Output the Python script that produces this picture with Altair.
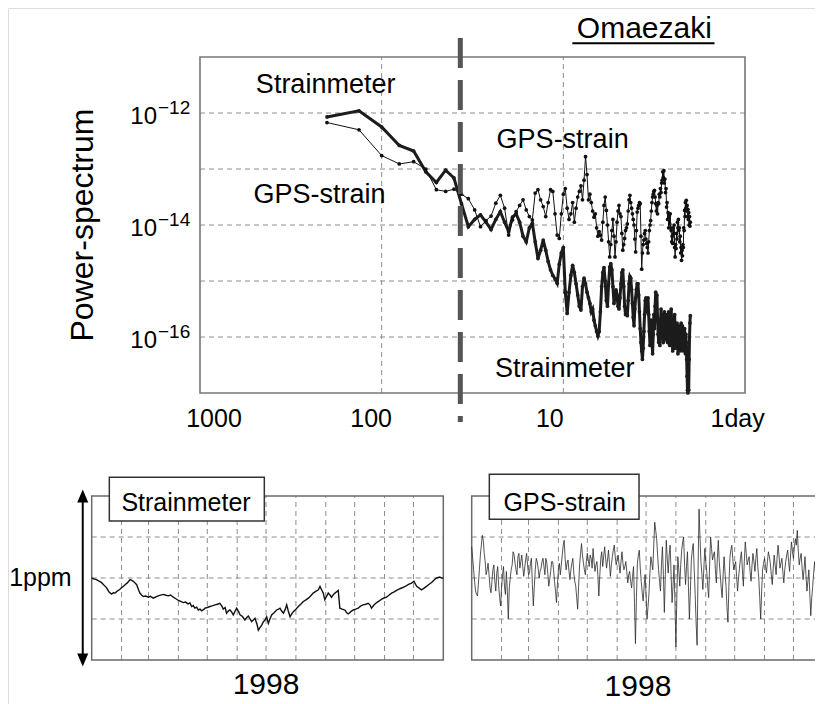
import altair as alt
import pandas as pd

FONT = "Liberation Sans"

# ---------------- data: power spectrum (log10 of power), harmonics k of a 400-day record ----------------
record_length_days = 400
harmonic_k = list(range(2, 201))

strain_logP = [
    -12.07, -11.96, -12.25, -12.58, -12.68, -13.05, -13.24, -13.02, -13.16, -13.62,   # k 2-11
    -14.03, -13.90, -13.82, -13.95, -14.08, -13.90, -13.76, -13.95, -14.12, -13.86,   # k 12-21
    -13.80, -13.95, -14.20, -14.30, -14.05, -13.97, -14.30, -14.60, -14.45, -14.27,   # k 22-31
    -14.45, -14.65, -14.80, -14.90, -14.96, -15.04, -14.70, -14.50, -14.40, -15.20,   # k 32-41
    -15.58, -15.20, -14.90, -14.72, -14.85, -15.05, -15.25, -15.45, -15.52, -15.10,   # k 42-51
    -14.95, -15.05, -15.20, -15.30,                                                   # k 52-55
    -15.40, -15.55, -15.50, -15.70, -15.80, -15.90, -15.98, -15.90, -15.55, -15.10,   # k 56-65
    -14.85, -14.76, -15.00, -15.35, -15.45, -15.05, -14.75, -14.69, -14.80, -15.10,   # k 66-75
    -15.40, -15.30, -15.16, -15.25, -15.45, -15.50, -15.30, -15.05, -14.85, -14.80,   # k 76-85
    -15.10, -15.45, -15.60, -15.55, -15.62, -15.35, -15.05, -14.92, -14.95, -15.15,   # k 86-95
    -15.40, -15.65, -15.80, -15.50, -15.30, -15.15, -15.05, -15.05, -15.25, -15.55,   # k 96-105
    -15.85, -16.10, -16.25, -16.40, -16.20, -15.90, -15.60, -15.35, -15.30, -15.55,   # k 106-115
    -15.40, -15.30, -15.60, -15.90, -16.15, -16.00, -15.70, -16.05, -16.30, -15.95,   # k 116-125
    -15.60, -15.85, -15.45, -15.20, -15.50, -15.25, -15.65, -15.95, -16.10, -15.80,   # k 126-135
    -16.15, -15.75, -15.50, -15.85, -15.60, -15.95, -16.10, -15.70, -15.55, -15.95,   # k 136-145
    -15.75, -16.05, -15.60, -15.85, -16.10, -15.80, -15.55, -15.90, -16.15, -15.85,   # k 146-155
    -15.65, -15.50, -15.80, -16.05, -16.25, -15.90, -16.20, -15.70, -15.60, -15.95,   # k 156-165
    -16.20, -15.85, -16.10, -15.75, -15.95, -16.30, -16.05, -15.80, -16.15, -15.90,   # k 166-175
    -16.25, -15.95, -15.75, -15.85, -16.10, -15.80, -16.00, -16.25, -15.90, -16.15,   # k 176-185
    -15.85, -16.05, -16.30, -15.95, -16.10, -16.40, -16.70, -16.95, -17.00, -16.60,   # k 186-195
    -16.95, -16.40, -16.00, -15.75, -15.62,                                           # k 196-200
]

gps_logP = [
    -12.17, -12.30, -12.76, -12.91, -12.87, -13.00, -13.37, -13.40, -13.36, -13.45,   # k 2-11
    -13.53, -13.73, -14.03, -13.92, -13.84, -13.61, -13.47, -13.70, -14.18, -13.91,   # k 12-21
    -13.76, -13.65, -13.55, -13.73, -13.85, -13.91, -13.43, -13.37, -13.55, -13.67,   # k 22-31
    -13.85, -13.60, -13.37, -13.40, -13.80, -14.18, -14.24, -13.80, -13.45, -13.35,   # k 32-41
    -13.70, -13.90, -13.80, -13.60, -13.95, -13.70, -13.50, -13.40, -13.30, -13.55,   # k 42-51
    -13.20, -12.78, -13.10, -13.55,                                                   # k 52-55
    -13.45, -13.60, -13.75, -13.86, -13.80, -14.05, -14.20, -14.12, -14.18, -14.27,   # k 56-65
    -13.95, -13.65, -13.50, -13.74, -14.00, -14.30, -14.57, -14.35, -14.10, -13.90,   # k 66-75
    -14.20, -14.57, -14.30, -13.95, -13.75, -13.65, -13.80, -13.85, -14.15, -14.45,   # k 76-85
    -14.35, -14.24, -14.10, -14.05, -13.98, -13.75, -13.55, -13.47, -13.60, -13.70,   # k 86-95
    -13.80, -13.90, -14.00, -14.25, -14.48, -14.10, -13.77, -13.70, -13.65, -13.60,   # k 96-105
    -13.62, -14.20, -14.79, -14.50, -14.35, -14.27, -14.15, -14.10, -14.25, -14.33,   # k 106-115
    -14.40, -14.50, -14.30, -14.10, -14.00, -13.92, -13.75, -13.60, -13.50, -13.45,   # k 116-125
    -13.40, -13.38, -13.50, -13.62, -13.75, -13.65, -13.80, -13.60, -13.62, -13.45,   # k 126-135
    -13.50, -13.35, -13.42, -13.25, -13.20, -13.05, -13.15, -13.03, -13.25, -13.18,   # k 136-145
    -13.42, -13.35, -13.68, -13.60, -13.90, -13.78, -14.05, -13.85, -13.98, -13.80,   # k 146-155
    -14.05, -14.10, -14.30, -14.20, -14.33, -14.05, -14.15, -14.00, -14.40, -14.57,   # k 156-165
    -14.35, -14.42, -14.15, -14.25, -13.95, -14.05, -13.90, -14.10, -14.05, -14.30,   # k 166-175
    -14.20, -14.50, -14.40, -14.63, -14.45, -14.55, -14.35, -14.40, -14.05, -14.10,   # k 176-185
    -13.74, -13.85, -13.60, -13.70, -13.56, -13.75, -13.65, -13.85, -13.72, -13.90,   # k 186-195
    -13.78, -14.00, -13.85, -14.02, -13.95,                                           # k 196-200
]

power_grid_exp = [-12, -13, -14, -15, -16]
period_grid = [100, 10]
y_tick_exp = [-12, -14, -16]
y_tick_sup = ["\u221212", "\u221214", "\u221216"]
boundary_period = 36.9

# ---------------- data: 1998 time series (day of year, ppm) ----------------
month_start_days = [31, 59, 90, 120, 151, 181, 212, 243, 273, 304, 334]
ppm_grid = [-0.25, 0.0, 0.25]

strain_days = [
    0, 2, 5, 8, 10, 13, 15.5, 18, 20.7, 22.5, 24.2, 26, 27.6, 29, 31, 33, 34.6, 37, 39.8, 41.5,
    43.2, 45, 46.7, 48.5, 50, 52, 53.6, 56, 58.8, 61, 64, 66.5, 69, 71.5, 74.4, 77, 79.6, 82, 84.7, 87,
    90, 92.5, 95, 97.5, 100, 102, 103.8, 105.5, 107, 109, 110.7, 112.5, 114, 116, 117.6, 120, 122.8, 125, 128, 130.5,
    133, 135, 136.6, 138.5, 140, 142, 143.6, 145.5, 147, 149, 150.5, 152.5, 154, 156.5, 159, 161, 162.6, 164.5, 166, 168,
    169.5, 171.5, 173, 175, 176.5, 178.2, 180, 181.6, 183.4, 185, 186.8, 189.5, 192, 194, 195.5, 197, 199, 201, 202.4, 204,
    205.9, 207.5, 209.3, 212, 214.5, 217, 219.7, 222, 224.9, 227.5, 230, 232.5, 235.3, 237, 238.5, 240.4, 242, 244, 245.6, 247.5,
    249, 251, 252.5, 254, 255.9, 257.6, 260, 262.8, 264.5, 266.3, 269, 271.5, 274, 276.7, 279, 281.8, 284.5, 287, 289, 290.5,
    293, 295.8, 298.5, 301, 303.5, 306, 308.5, 311.3, 314, 316.5, 319, 321.7, 324, 326.9, 329.5, 332, 334.5, 337.3, 340, 342.4,
    345, 347.6, 350, 352.8, 355.5, 358, 361.4, 363, 365,
]
strain_ppm = [
    0.0, -0.005, -0.01, -0.02, -0.027, -0.045, -0.06, -0.085, -0.098, -0.09, -0.092, -0.082, -0.076, -0.07, -0.06, -0.05, -0.041, -0.03, -0.01, -0.015,
    -0.02, -0.03, -0.041, -0.07, -0.092, -0.105, -0.113, -0.11, -0.117, -0.112, -0.123, -0.115, -0.109, -0.104, -0.10, -0.105, -0.109, -0.104, -0.117, -0.125,
    -0.137, -0.142, -0.15, -0.147, -0.158, -0.152, -0.174, -0.168, -0.184, -0.178, -0.195, -0.19, -0.2, -0.193, -0.184, -0.18, -0.174, -0.17, -0.164, -0.16,
    -0.154, -0.17, -0.19, -0.18, -0.215, -0.2, -0.195, -0.21, -0.225, -0.2, -0.184, -0.205, -0.225, -0.235, -0.256, -0.24, -0.232, -0.25, -0.266, -0.255,
    -0.246, -0.28, -0.318, -0.30, -0.287, -0.266, -0.256, -0.236, -0.277, -0.25, -0.225, -0.21, -0.195, -0.19, -0.184, -0.2, -0.215, -0.19, -0.164, -0.2,
    -0.236, -0.22, -0.205, -0.19, -0.174, -0.16, -0.143, -0.135, -0.123, -0.108, -0.092, -0.082, -0.072, -0.051, -0.07, -0.092, -0.133, -0.11, -0.092, -0.105,
    -0.117, -0.1, -0.092, -0.085, -0.076, -0.184, -0.19, -0.195, -0.21, -0.219, -0.205, -0.195, -0.19, -0.184, -0.172, -0.164, -0.16, -0.154, -0.165, -0.184,
    -0.165, -0.15, -0.14, -0.129, -0.122, -0.117, -0.105, -0.092, -0.085, -0.076, -0.068, -0.061, -0.055, -0.047, -0.038, -0.031, -0.02, -0.051, -0.062, -0.072,
    -0.062, -0.051, -0.04, -0.027, -0.012, 0.0, 0.006, 0.0, 0.0,
]

# GPS strain, daily: values read for even days and for odd days
gps_ppm_even_days = [
    0.19, 0.05, -0.08, -0.11, 0.05, 0.20, 0.23, 0.10, 0.05, 0.02,
    -0.09, 0.05, -0.02, 0.03, -0.05, -0.17, 0.02, -0.05, 0.04, -0.25,
    0.00, 0.08, 0.14, 0.05, 0.13, 0.06, 0.14, 0.01, 0.11, 0.08,
    0.03, 0.12, -0.17, 0.05, 0.10, 0.00, 0.06, 0.12, 0.02, 0.09,
    -0.05, 0.04, 0.10, -0.02, -0.15, 0.05, 0.02, 0.14, 0.23, 0.05,
    0.11, -0.01, 0.09, 0.03, -0.05, -0.19, 0.08, 0.21, 0.09, 0.02,
    0.15, 0.07, 0.12, 0.18, 0.04, 0.10, -0.11, 0.12, 0.07, 0.19,
    0.06, 0.17, 0.01, 0.13, 0.20, 0.08, 0.14, 0.03, 0.16, 0.05,
    0.10, -0.03, 0.04, -0.06, 0.07, -0.40, 0.09, 0.17, -0.02, -0.14,
    0.02, -0.25, -0.10, 0.13, 0.05, 0.34, 0.24, 0.05, -0.08, 0.19,
    -0.21, 0.23, 0.03, 0.20, -0.15, 0.08, -0.42, 0.13, -0.05, 0.17,
    0.25, -0.04, 0.16, -0.25, 0.11, 0.21, -0.10, -0.41, 0.42, 0.10,
    -0.07, 0.18, 0.04, -0.12, 0.25, 0.11, 0.16, -0.03, 0.23, 0.02,
    -0.12, 0.13, -0.05, -0.27, 0.12, 0.20, 0.05, 0.10, -0.08, 0.06,
    0.16, -0.05, 0.22, 0.08, 0.13, -0.02, 0.15, 0.04, 0.18, 0.00,
    -0.25, 0.05, 0.12, 0.03, 0.16, 0.09, -0.04, 0.14, 0.02, 0.20,
    0.06, 0.12, -0.03, 0.10, 0.17, 0.04, 0.22, 0.12, 0.24, 0.29,
    0.08, 0.15, -0.01, 0.13, -0.08, 0.05, -0.23, -0.05, 0.10, -0.10,
    0.12, -0.12, -0.08,
]
gps_ppm_odd_days = [
    0.12, -0.02, -0.10, -0.03, 0.14, 0.26, 0.15, 0.02, 0.09, -0.06,
    -0.02, 0.08, -0.08, 0.07, -0.12, -0.06, 0.07, -0.10, -0.08, -0.06,
    0.05, 0.16, 0.09, 0.02, 0.15, 0.10, 0.07, 0.06, 0.15, 0.02,
    0.09, -0.04, -0.05, 0.12, 0.06, 0.04, 0.10, 0.07, 0.12, 0.03,
    -0.01, 0.10, 0.05, -0.08, -0.04, 0.09, 0.08, 0.20, 0.12, 0.09,
    0.04, 0.05, 0.12, -0.02, -0.12, -0.05, 0.15, 0.14, 0.05, 0.10,
    0.11, 0.14, 0.06, 0.10, 0.08, 0.01, 0.02, 0.16, 0.13, 0.12,
    0.11, 0.09, 0.08, 0.17, 0.13, 0.11, 0.08, 0.10, 0.09, 0.07,
    0.04, 0.02, -0.02, 0.01, -0.15, -0.12, 0.14, 0.06, -0.09, -0.05,
    -0.10, -0.18, 0.03, 0.09, 0.20, 0.29, 0.14, -0.02, 0.08, 0.02,
    0.02, 0.12, 0.14, 0.02, -0.05, -0.15, -0.10, 0.05, 0.08, 0.22,
    0.08, 0.07, -0.05, -0.08, 0.17, 0.05, -0.28, 0.05, 0.25, 0.02,
    0.06, 0.10, -0.05, 0.08, 0.18, 0.14, 0.05, 0.12, 0.10, -0.06,
    0.02, 0.03, -0.18, -0.05, 0.17, 0.12, 0.08, 0.01, 0.00, 0.12,
    0.05, 0.10, 0.15, 0.11, 0.04, 0.08, 0.10, 0.12, 0.07, -0.12,
    -0.08, 0.09, 0.07, 0.10, 0.13, 0.02, 0.06, 0.08, 0.12, 0.14,
    0.09, 0.04, 0.05, 0.14, 0.10, 0.14, 0.16, 0.19, 0.20, 0.17,
    0.12, 0.06, 0.05, 0.02, -0.02, -0.10, -0.12, 0.03, 0.02, 0.01,
    -0.02, -0.10,
]

assert len(strain_logP) == len(harmonic_k) == len(gps_logP)
assert len(strain_days) == len(strain_ppm)
assert len(gps_ppm_even_days) == 183 and len(gps_ppm_odd_days) == 182

gps_days, gps_ppm = [], []
for i, v in enumerate(gps_ppm_even_days):
    gps_days.append(2 * i)
    gps_ppm.append(v)
    if i < len(gps_ppm_odd_days):
        gps_days.append(2 * i + 1)
        gps_ppm.append(gps_ppm_odd_days[i])

spectrum = pd.DataFrame({
    "period": [record_length_days / k for k in harmonic_k],
    "strain": [10.0 ** v for v in strain_logP],
    "gps": [10.0 ** v for v in gps_logP],
})

# ---------------- scales (pixel ranges inside one 807x696 canvas) ----------------
TOP_X = alt.Scale(type="log", domain=[1, 1000], range=[737, 192], nice=False, zero=False)
TOP_Y = alt.Scale(type="log", domain=[1e-17, 1e-11], range=[385, 49], nice=False, zero=False)
BL_X = alt.Scale(domain=[0, 365], range=[83.7, 435.3], nice=False, zero=False)
BR_X = alt.Scale(domain=[0, 365], range=[463.7, 815.3], nice=False, zero=False)
B_Y = alt.Scale(domain=[-0.5, 0.5], range=[652, 488], nice=False, zero=False)


def tx(f):
    return alt.X(f, type="quantitative", scale=TOP_X, axis=None)


def ty(f):
    return alt.Y(f, type="quantitative", scale=TOP_Y, axis=None)


GRID = dict(color="#8c8c8c", strokeWidth=1, strokeDash=[5, 4])
layers = []

# ---------------- top panel ----------------
layers.append(
    alt.Chart(pd.DataFrame({"p": [10.0 ** e for e in power_grid_exp], "xa": 1000, "xb": 1}))
    .mark_rule(**GRID)
    .encode(x=tx("xa"), x2=alt.X2("xb"), y=ty("p"))
)
layers.append(
    alt.Chart(pd.DataFrame({"per": period_grid, "ya": 1e-17, "yb": 1e-11}))
    .mark_rule(**GRID)
    .encode(x=tx("per"), y=ty("ya"), y2=alt.Y2("yb"))
)
layers.append(
    alt.Chart(pd.DataFrame({"xa": [1000], "xb": [1], "ya": [1e-17], "yb": [1e-11]}))
    .mark_rect(fillOpacity=0, stroke="#777777", strokeWidth=1.6)
    .encode(x=tx("xa"), x2=alt.X2("xb"), y=ty("ya"), y2=alt.Y2("yb"))
)
layers.append(
    alt.Chart(spectrum)
    .mark_line(color="#1c1c1c", strokeWidth=3,
               point=alt.OverlayMarkDef(filled=True, size=14, color="#1c1c1c"))
    .encode(x=tx("period"), y=ty("strain"))
)
layers.append(
    alt.Chart(spectrum)
    .mark_line(color="#111111", strokeWidth=1,
               point=alt.OverlayMarkDef(filled=True, size=14, color="#111111"))
    .encode(x=tx("period"), y=ty("gps"))
)
layers.append(
    alt.Chart(pd.DataFrame({"per": [boundary_period], "ya": [10 ** -10.66], "yb": [10 ** -17.52]}))
    .mark_rule(color="#555555", strokeWidth=5, strokeDash=[30, 12])
    .encode(x=tx("per"), y=ty("ya"), y2=alt.Y2("yb"))
)
annotations = pd.DataFrame({
    "text": ["Strainmeter", "GPS-strain", "GPS-strain", "Strainmeter"],
    "per": [203.4, 220.0, 10.09, 9.83],
    "pw": [10 ** -11.50, 10 ** -13.46, 10 ** -12.48, 10 ** -16.58],
})
layers.append(
    alt.Chart(annotations)
    .mark_text(font=FONT, fontSize=27, align="center", baseline="middle", color="black")
    .encode(x=tx("per"), y=ty("pw"), text="text:N")
)
layers.append(
    alt.Chart(pd.DataFrame({"t": ["Omaezaki"], "per": [3.58], "pw": [10 ** -10.661]}))
    .mark_text(font=FONT, fontSize=30, align="center", baseline="alphabetic", color="black")
    .encode(x=tx("per"), y=ty("pw"), text="t:N")
)
layers.append(
    alt.Chart(pd.DataFrame({"xa": [8.92], "xb": [1.472], "pw": [10 ** -10.756]}))
    .mark_rule(color="black", strokeWidth=2)
    .encode(x=tx("xa"), x2=alt.X2("xb"), y=ty("pw"))
)
ytick = pd.DataFrame({
    "pw": [10.0 ** e for e in y_tick_exp], "per": 1000,
    "base": ["10"] * len(y_tick_exp), "sup": y_tick_sup,
})
layers.append(
    alt.Chart(ytick)
    .mark_text(font=FONT, fontSize=24, align="right", baseline="middle", dx=-43, dy=4, color="black")
    .encode(x=tx("per"), y=ty("pw"), text="base:N")
)
layers.append(
    alt.Chart(ytick)
    .mark_text(font=FONT, fontSize=19, align="left", baseline="middle", dx=-42, dy=-5, color="black")
    .encode(x=tx("per"), y=ty("pw"), text="sup:N")
)
layers.append(
    alt.Chart(pd.DataFrame({"t": ["Power-spectrum"], "per": [1000], "pw": [1e-14]}))
    .mark_text(font=FONT, fontSize=32, angle=270, align="center", baseline="middle", dy=-117, color="black")
    .encode(x=tx("per"), y=ty("pw"), text="t:N")
)
for label, per, dx, align in [("1000", 1000, 14, "center"), ("100", 100, -10.5, "center"),
                              ("10", 10, -13.5, "center"), ("1day", 1, -34.5, "left")]:
    layers.append(
        alt.Chart(pd.DataFrame({"t": [label], "per": [per], "pw": [1e-17]}))
        .mark_text(font=FONT, fontSize=25, align=align, baseline="alphabetic", dx=dx, dy=34, color="black")
        .encode(x=tx("per"), y=ty("pw"), text="t:N")
    )


# ---------------- bottom panels ----------------
def panel(xs, days, vals, line_color, line_w, box, label, label_pos, year_day, year_dy):
    def bx(f):
        return alt.X(f, type="quantitative", scale=xs, axis=None)

    def by(f):
        return alt.Y(f, type="quantitative", scale=B_Y, axis=None)

    out = [
        alt.Chart(pd.DataFrame({"v": ppm_grid, "xa": 0, "xb": 365}))
        .mark_rule(**GRID).encode(x=bx("xa"), x2=alt.X2("xb"), y=by("v")),
        alt.Chart(pd.DataFrame({"d": month_start_days, "ya": -0.5, "yb": 0.5}))
        .mark_rule(**GRID).encode(x=bx("d"), y=by("ya"), y2=alt.Y2("yb")),
        alt.Chart(pd.DataFrame({"xa": [0], "xb": [365], "ya": [-0.5], "yb": [0.5]}))
        .mark_rect(fillOpacity=0, stroke="#6a6a6a", strokeWidth=1.5)
        .encode(x=bx("xa"), x2=alt.X2("xb"), y=by("ya"), y2=alt.Y2("yb")),
        alt.Chart(pd.DataFrame({"day": days, "ppm": vals}))
        .mark_line(color=line_color, strokeWidth=line_w)
        .encode(x=bx("day"), y=by("ppm")),
        alt.Chart(pd.DataFrame({"xa": [box[0]], "xb": [box[1]], "ya": [box[2]], "yb": [box[3]]}))
        .mark_rect(fill="white", stroke="#333333", strokeWidth=1.5)
        .encode(x=bx("xa"), x2=alt.X2("xb"), y=by("ya"), y2=alt.Y2("yb")),
        alt.Chart(pd.DataFrame({"t": [label], "d": [label_pos[0]], "v": [label_pos[1]]}))
        .mark_text(font=FONT, fontSize=25, align="center", baseline="middle", color="black")
        .encode(x=bx("d"), y=by("v"), text="t:N"),
        alt.Chart(pd.DataFrame({"t": ["1998"], "d": [year_day], "v": [-0.5]}))
        .mark_text(font=FONT, fontSize=30, align="center", baseline="alphabetic", dy=year_dy, color="black")
        .encode(x=bx("d"), y=by("v"), text="t:N"),
    ]
    return out, bx, by


left_layers, lbx, lby = panel(BL_X, strain_days, strain_ppm, "#111111", 1.4,
                              (18.3, 179.2, 0.348, 0.614), "Strainmeter", (97.9, 0.459), 181, 34)
right_layers, _, _ = panel(BR_X, gps_days, gps_ppm, "#2a2a2a", 0.8,
                           (18.3, 173.7, 0.358, 0.632), "GPS-strain", (96.5, 0.46), 172.6, 36)
layers += left_layers + right_layers

# 1 ppm scale arrow
arrow_day = -9.3
layers.append(
    alt.Chart(pd.DataFrame({"d": [arrow_day], "ya": [-0.5], "yb": [0.5]}))
    .mark_rule(color="black", strokeWidth=2)
    .encode(x=lbx("d"), y=lby("ya"), y2=alt.Y2("yb"))
)
layers.append(
    alt.Chart(pd.DataFrame({"d": [arrow_day], "v": [0.5]}))
    .mark_point(shape="M0,-1L0.85,1L-0.85,1Z", filled=True, size=169, color="black", opacity=1)
    .encode(x=lbx("d"), y=lby("v"))
)
layers.append(
    alt.Chart(pd.DataFrame({"d": [arrow_day], "v": [-0.5]}))
    .mark_point(shape="M0,1L0.85,-1L-0.85,-1Z", filled=True, size=169, color="black", opacity=1)
    .encode(x=lbx("d"), y=lby("v"))
)
layers.append(
    alt.Chart(pd.DataFrame({"t": ["1ppm"], "d": [0], "v": [0.0]}))
    .mark_text(font=FONT, fontSize=25, align="right", baseline="middle", dx=-20, color="black")
    .encode(x=lbx("d"), y=lby("v"), text="t:N")
)

chart = (
    alt.layer(*layers)
    .resolve_scale(x="independent", y="independent")
    .properties(width=807, height=696, padding=0, autosize=alt.AutoSizeParams(type="none"))
    .configure_view(stroke="white", strokeWidth=0, fill="white")
    .configure(background="white")
)

chart.save("out.html", embed_options={"renderer": "svg", "actions": False})
